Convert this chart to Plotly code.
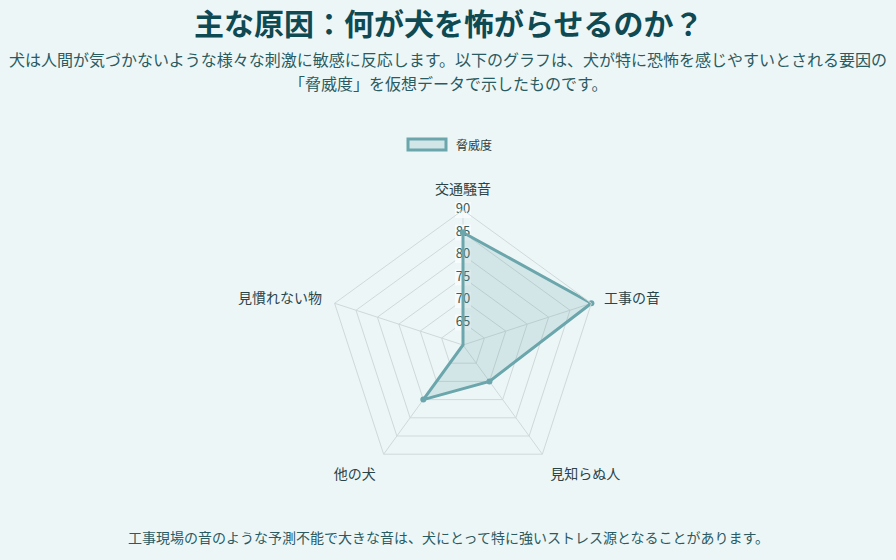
import plotly.graph_objects as go

categories = ["交通騒音", "工事の音", "見知らぬ人", "他の犬", "見慣れない物"]
threat = [85, 90, 70, 75, 60]
tick_values = [65, 70, 75, 80, 85, 90]
tick_labels = ["65", "70", "75", "80", "85", "90"]
series_name = "脅威度"

title_text = "主な原因：何が犬を怖がらせるのか？"
subtitle_1 = "犬は人間が気づかないような様々な刺激に敏感に反応します。以下のグラフは、犬が特に恐怖を感じやすいとされる要因の"
subtitle_2 = "「脅威度」を仮想データで示したものです。"
caption = "工事現場の音のような予測不能で大きな音は、犬にとって特に強いストレス源となることがあります。"

FONT = "Noto Sans CJK JP"
BG = "#edf6f7"
TEAL = "#6aa6ab"
GRID = "#cfd9da"

fig = go.Figure()

# radial tick label backdrops + labels (drawn on the top axis, under the data)
fig.add_trace(go.Scatterpolar(
    r=tick_values,
    theta=[categories[0]] * len(tick_values),
    mode="markers",
    marker=dict(symbol="square", size=16, color="rgba(250,253,253,0.8)", line=dict(width=0)),
    showlegend=False,
    hoverinfo="skip",
))
fig.add_trace(go.Scatterpolar(
    r=tick_values,
    theta=[categories[0]] * len(tick_values),
    mode="text",
    text=tick_labels,
    textposition="middle center",
    textfont=dict(family=FONT, size=13, color="#35605f"),
    showlegend=False,
    hoverinfo="skip",
))

fig.add_trace(go.Scatterpolar(
    r=threat + [threat[0]],
    theta=categories + [categories[0]],
    mode="lines+markers",
    fill="toself",
    fillcolor="rgba(106,166,171,0.2)",
    line=dict(color=TEAL, width=3),
    marker=dict(color=TEAL, size=6),
    name=series_name,
    showlegend=False,
    hoverinfo="skip",
))

fig.update_layout(
    width=896, height=560,
    paper_bgcolor=BG, plot_bgcolor=BG,
    margin=dict(l=0, r=0, t=0, b=0),
    showlegend=False,
    font=dict(family=FONT, color="#2b4447"),
    polar=dict(
        bgcolor="rgba(0,0,0,0)",
        domain=dict(x=[328/896, 598/896], y=[1-480/560, 1-210/560]),
        gridshape="linear",
        radialaxis=dict(
            range=[60, 90], tickvals=tick_values, showticklabels=False,
            ticks="", showline=False, gridcolor=GRID, gridwidth=1,
        ),
        angularaxis=dict(
            direction="clockwise", rotation=90,
            showline=True, linecolor=GRID, linewidth=1,
            gridcolor=GRID, gridwidth=1,
            ticks="outside", ticklen=10, tickcolor="rgba(0,0,0,0)",
            tickfont=dict(family=FONT, size=14, color="#2b4447"),
        ),
    ),
    annotations=[
        dict(text="<b>" + title_text + "</b>", x=0.5, y=1-22/560, xref="paper", yref="paper",
             showarrow=False, font=dict(family=FONT, size=30, color="#0f4a52"),
             xanchor="center", yanchor="middle"),
        dict(text=subtitle_1, x=0.5, y=1-59/560, xref="paper", yref="paper",
             showarrow=False, font=dict(family=FONT, size=16, color="#2a5b61"),
             xanchor="center", yanchor="middle"),
        dict(text=subtitle_2, x=0.5, y=1-83/560, xref="paper", yref="paper",
             showarrow=False, font=dict(family=FONT, size=16, color="#2a5b61"),
             xanchor="center", yanchor="middle"),
        dict(text=series_name, x=454/896, y=1-144/560, xref="paper", yref="paper",
             showarrow=False, font=dict(family=FONT, size=12, color="#2b4447"),
             xanchor="left", yanchor="middle"),
        dict(text=caption, x=0.5, y=1-537/560, xref="paper", yref="paper",
             showarrow=False, font=dict(family=FONT, size=14, color="#2a5b61"),
             xanchor="center", yanchor="middle"),
    ],
    shapes=[
        dict(type="rect", xref="paper", yref="paper",
             x0=408/896, x1=446/896, y0=1-150/560, y1=1-139/560,
             line=dict(color=TEAL, width=3), fillcolor="rgba(106,166,171,0.2)"),
    ],
)

fig.write_html(
    "out.html",
    config={"displayModeBar": False},
    post_script="document.body.style.margin='0';document.body.style.background='#edf6f7';",
)
